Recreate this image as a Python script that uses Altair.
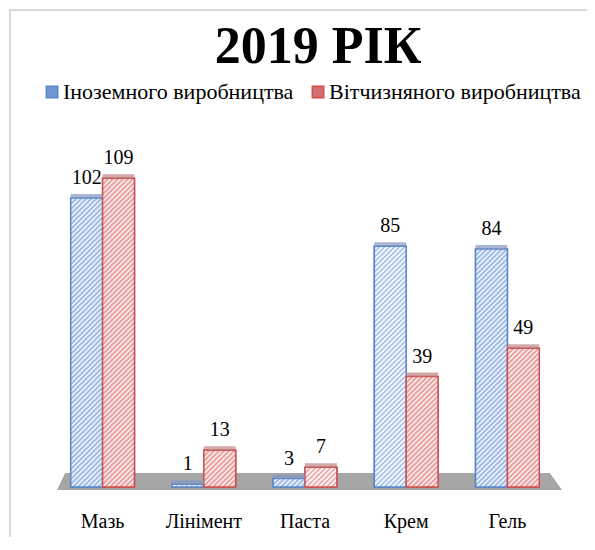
import altair as alt

# ---------------- data ----------------
categories = ["Мазь", "Лінімент", "Паста", "Крем", "Гель"]
series = ["Іноземного виробництва", "Вітчизняного виробництва"]
foreign = [102, 1, 3, 85, 84]
domestic = [109, 13, 7, 39, 49]
title_text = "2019 РІК"

# ---------------- layout / style constants ----------------
PLOT_W, PLOT_H = 506, 340
Y_MAX = 120
PAD_IN = 0.37
FONT = "'Liberation Serif', 'Times New Roman', Tinos, 'DejaVu Serif', serif"

mid = ["#6f95d2", "#d46e6e"]
edge = ["#5b86c9", "#cc5050"]
stripe = ["#a7c1ea", "#eda7a7"]
gap = ["#eef3fb", "#fbeded"]
topc = ["#8497bd", "#bd8484"]

bar_w = PLOT_W / len(categories) * (1 - PAD_IN) / len(series)


def hatch(value, i, period=5.0):
    w = bar_w
    h = max(value * PLOT_H / Y_MAX, 0.5)
    s = (w + h) / (w * w + h * h)
    n = (w + h) / period
    stops = []
    k = 0
    while k < n:
        a = k / n
        b = min((k + 0.5) / n, 1)
        c = min((k + 1) / n, 1)
        stops += [
            {"offset": a, "color": stripe[i]},
            {"offset": b, "color": stripe[i]},
            {"offset": b, "color": gap[i]},
            {"offset": c, "color": gap[i]},
        ]
        k += 1
    return {"gradient": "linear", "x1": 0, "y1": 0, "x2": s * w, "y2": s * h, "stops": stops}


rows = []
for si, vals in enumerate([foreign, domestic]):
    for cat, v in zip(categories, vals):
        rows.append({
            "category": cat,
            "series": series[si],
            "value": v,
            "grad": hatch(v, si),
            "edgec": edge[si],
            "topc": topc[si],
        })

data = alt.Data(values=rows)
one = alt.Data(values=[{"a": 0}])

x_enc = alt.X("category:N", sort=categories,
              scale=alt.Scale(paddingInner=PAD_IN, paddingOuter=PAD_IN / 2),
              axis=alt.Axis(title=None, labelAngle=0, ticks=False, domain=False,
                            labelFont=FONT, labelFontSize=20, labelColor="black",
                            labelPadding=24))
xo_enc = alt.XOffset("series:N", sort=series, scale=alt.Scale(domain=series))
y_enc = alt.Y("value:Q", stack=None, scale=alt.Scale(domain=[0, Y_MAX], nice=False),
              axis=None)

legend = alt.Legend(orient="none", legendX=-11, legendY=-66, direction="horizontal",
                    title=None, labelFont=FONT, labelFontSize=22, labelColor="black",
                    symbolType="square", symbolSize=130, symbolStrokeWidth=1.5,
                    labelOffset=0, columnPadding=13, labelLimit=0, padding=0)

frame = alt.Chart(one).mark_rect(fillOpacity=0, stroke="#d9d9d9", strokeWidth=2).encode(
    x=alt.value(-42), x2=alt.value(580), y=alt.value(-137), y2=alt.value(520)
)

floor_path = "M -1 0.0337 L -0.968 -0.0337 L 0.952 -0.0337 L 1 0.0337 Z"
floor = alt.Chart(one).mark_point(shape=floor_path, filled=True, fill="#a6a6a6",
                                  opacity=1, strokeWidth=0, size=255025).encode(
    x=alt.value(257.5), y=alt.value(334.5)
)

title = alt.Chart(one).mark_text(text=title_text, font=FONT, fontSize=52, fontWeight="bold",
                                 align="center", baseline="alphabetic", color="black").encode(
    x=alt.value(266), y=alt.value(-84)
)

base = alt.Chart(data).mark_bar(strokeWidth=1.5).encode(
    x=x_enc, xOffset=xo_enc, y=y_enc,
    fill=alt.Fill("series:N", sort=series, scale=alt.Scale(domain=series, range=mid), legend=legend),
    stroke=alt.Stroke("series:N", sort=series, scale=alt.Scale(domain=series, range=edge), legend=legend),
)

hatched = alt.Chart(data).mark_bar(strokeWidth=1.5).encode(
    x=x_enc, xOffset=xo_enc, y=y_enc,
    fill=alt.Fill("grad:N", scale=None),
    stroke=alt.Stroke("edgec:N", scale=None),
)

tops = alt.Chart(data).mark_tick(thickness=4, size=bar_w, yOffset=-2).encode(
    x=x_enc, xOffset=xo_enc, y=y_enc,
    color=alt.Color("topc:N", scale=None),
)

labels = alt.Chart(data).mark_text(font=FONT, fontSize=20, baseline="alphabetic",
                                   dy=-14, color="black").encode(
    x=x_enc, xOffset=xo_enc, y=y_enc, text="value:Q"
)

chart = (
    alt.layer(frame, floor, title, base, hatched, tops, labels)
    .properties(
        width=PLOT_W, height=PLOT_H,
        autosize=alt.AutoSizeParams(type="none"),
        padding={"left": 44, "top": 139, "right": 29, "bottom": 50},
    )
    .configure(background="white", font=FONT)
    .configure_view(strokeWidth=0, stroke="transparent")
)

chart.save("out.html", embed_options={"renderer": "svg", "actions": False})
